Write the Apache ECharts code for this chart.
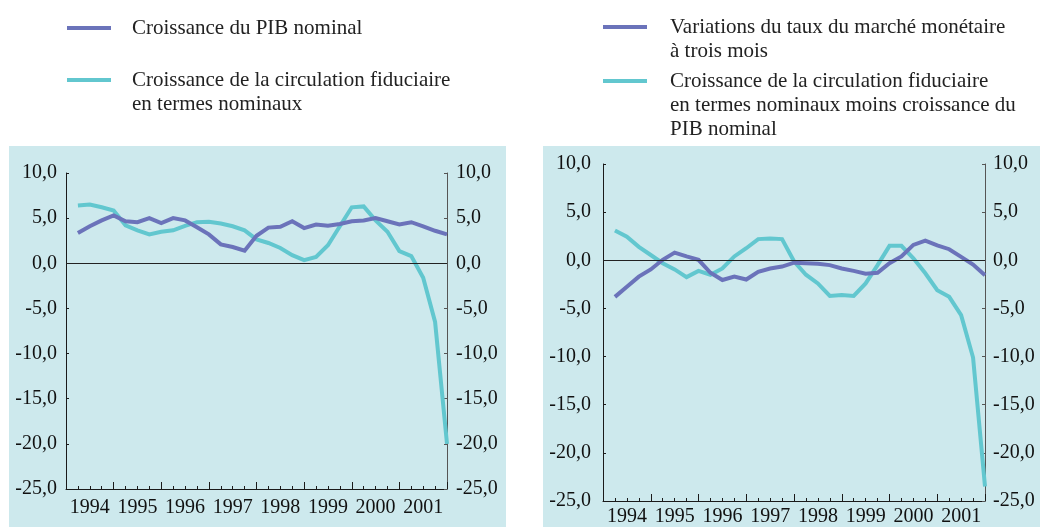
<!DOCTYPE html>
<html>
<head>
<meta charset="utf-8">
<script src="https://cdn.jsdelivr.net/npm/echarts@6/dist/echarts.min.js"></script>
<style>
html,body{margin:0;padding:0;background:#ffffff;}
#chart{width:1040px;height:527px;}
</style>
</head>
<body>
<div id="chart"></div>
<script>
// ---- Data (quarterly, 1994 T1 .. 2001 T4) ----
const years = [1994, 1995, 1996, 1997, 1998, 1999, 2000, 2001];
const yTickMin = -25, yTickMax = 10, yTickStep = 5;

// Left panel
const pibNominal = [3.35, 4.1, 4.75, 5.3, 4.65, 4.55, 5.0, 4.45, 5.0, 4.75, 4.0, 3.2, 2.1, 1.8, 1.4, 3.05,
                    3.95, 4.05, 4.65, 3.9, 4.3, 4.15, 4.35, 4.65, 4.75, 5.0, 4.65, 4.3, 4.55, 4.1, 3.6, 3.2];
const circulationNominale = [6.4, 6.5, 6.2, 5.85, 4.2, 3.65, 3.2, 3.5, 3.65, 4.15, 4.55, 4.6, 4.4, 4.1, 3.65, 2.65,
                             2.25, 1.7, 0.9, 0.35, 0.7, 2.0, 4.1, 6.2, 6.3, 4.75, 3.5, 1.35, 0.8, -1.6, -6.5, -20.0];
// Right panel
const tauxMarche3m = [-3.8, -2.75, -1.7, -0.95, 0.05, 0.8, 0.4, 0.05, -1.3, -2.05, -1.7, -2.0, -1.2, -0.85, -0.65, -0.25,
                      -0.3, -0.35, -0.5, -0.85, -1.1, -1.4, -1.3, -0.3, 0.4, 1.6, 2.05, 1.55, 1.15, 0.35, -0.45, -1.55];
const circulationMoinsPib = [3.1, 2.45, 1.4, 0.55, -0.3, -0.95, -1.75, -1.1, -1.5, -0.85, 0.4, 1.25, 2.2, 2.25, 2.2, -0.1,
                             -1.5, -2.4, -3.7, -3.6, -3.7, -2.4, -0.5, 1.5, 1.5, 0.2, -1.35, -3.1, -3.8, -5.7, -10.1, -23.5];

const names = {
  pib: 'Croissance du PIB nominal',
  circ: 'Croissance de la circulation fiduciaire\nen termes nominaux',
  taux: 'Variations du taux du marché monétaire\nà trois mois',
  diff: 'Croissance de la circulation fiduciaire\nen termes nominaux moins croissance du\nPIB nominal'
};

// ---- Styling ----
const PURPLE = '#6b73ba';
const CYAN = '#62c7cf';
const BG = '#cde9ed';
const FONT = '"Liberation Serif", "Times New Roman", serif';
const Q = 4;
const nQ = years.length * Q;

const toPairs = arr => arr.map((v, i) => [i + 1, v]);
const fmtY = v => v.toFixed(1).replace('.', ',');

function xAxis(gridIndex, labelMargin) {
  return {
    type: 'value', gridIndex: gridIndex, min: 0, max: nQ, interval: Q,
    axisLine: {show: true, onZero: false, lineStyle: {color: '#1a1a1a', width: 1}},
    axisTick: {show: true, inside: true, length: 7, lineStyle: {color: '#1a1a1a', width: 1}},
    minorTick: {show: true, splitNumber: Q, length: 3, lineStyle: {color: '#1a1a1a', width: 1}},
    splitLine: {show: false}, minorSplitLine: {show: false},
    axisLabel: {
      customValues: years.map((y, k) => k * Q + Q / 2),
      formatter: v => String(years[Math.round((v - Q / 2) / Q)]),
      fontFamily: FONT, fontSize: 20, color: '#111', margin: labelMargin
    }
  };
}
function yAxis(gridIndex, pos, lineColor, margin) {
  return {
    type: 'value', gridIndex: gridIndex, position: pos,
    min: yTickMin, max: yTickMax, interval: yTickStep,
    axisLine: {show: true, onZero: false, lineStyle: {color: lineColor, width: 1}},
    axisTick: {show: true, inside: true, length: 3, lineStyle: {color: lineColor, width: 1}},
    splitLine: {show: false},
    axisLabel: {formatter: fmtY, fontFamily: FONT, fontSize: 20, color: '#111', margin: margin}
  };
}
function lineSeries(name, data, color, xi, yi, z, zero) {
  const s = {
    name: name, type: 'line', xAxisIndex: xi, yAxisIndex: yi, data: toPairs(data),
    showSymbol: false, symbol: 'none', z: z,
    lineStyle: {color: color, width: 4, cap: 'butt', join: 'miter'},
    itemStyle: {color: color},
    emphasis: {disabled: true}
  };
  if (zero) {
    s.markLine = {
      silent: true, symbol: 'none', label: {show: false}, animation: false,
      lineStyle: {color: '#222', width: 1, type: 'solid'},
      emphasis: {disabled: true},
      data: [{yAxis: 0}]
    };
  }
  return s;
}
// One legend per entry; leading blank lines keep the first text line level with the icon.
function legend(name, left, top, padLeft) {
  const extra = name.split('\n').length - 1;
  return {
    left: left, top: top, orient: 'vertical', padding: 0, selectedMode: false,
    icon: 'rect', itemWidth: 44, itemHeight: 4,
    data: [name],
    formatter: n => '\n'.repeat(extra) + n,
    textStyle: {fontFamily: FONT, fontSize: 21, lineHeight: 24, color: '#222',
                padding: [0, 0, 0, padLeft]}
  };
}

const chart = echarts.init(document.getElementById('chart'), null, {renderer: 'canvas'});
chart.setOption({
  animation: false,
  backgroundColor: '#ffffff',
  graphic: [
    {type: 'rect', z: -100, silent: true, shape: {x: 9, y: 146, width: 497, height: 381}, style: {fill: BG}},
    {type: 'rect', z: -100, silent: true, shape: {x: 543, y: 146, width: 497, height: 381}, style: {fill: BG}}
  ],
  legend: [
    legend(names.pib, 67, 16, 16),
    legend(names.circ, 67, 44, 16),
    legend(names.taux, 603, -9, 18),
    legend(names.diff, 603, 21, 18)
  ],
  grid: [
    {left: 66, right: 593, top: 173, bottom: 38},
    {left: 603, right: 55, top: 164, bottom: 26}
  ],
  xAxis: [xAxis(0, 9), xAxis(1, 6)],
  yAxis: [
    yAxis(0, 'left', '#1a1a1a', 9),
    yAxis(0, 'right', '#555', 9),
    yAxis(1, 'left', '#1a1a1a', 12),
    yAxis(1, 'right', '#555', 8)
  ],
  series: [
    lineSeries(names.circ, circulationNominale, CYAN, 0, 0, 2, true),
    lineSeries(names.pib, pibNominal, PURPLE, 0, 0, 3, false),
    lineSeries(names.diff, circulationMoinsPib, CYAN, 1, 2, 2, true),
    lineSeries(names.taux, tauxMarche3m, PURPLE, 1, 2, 3, false)
  ]
});
</script>
</body>
</html>
